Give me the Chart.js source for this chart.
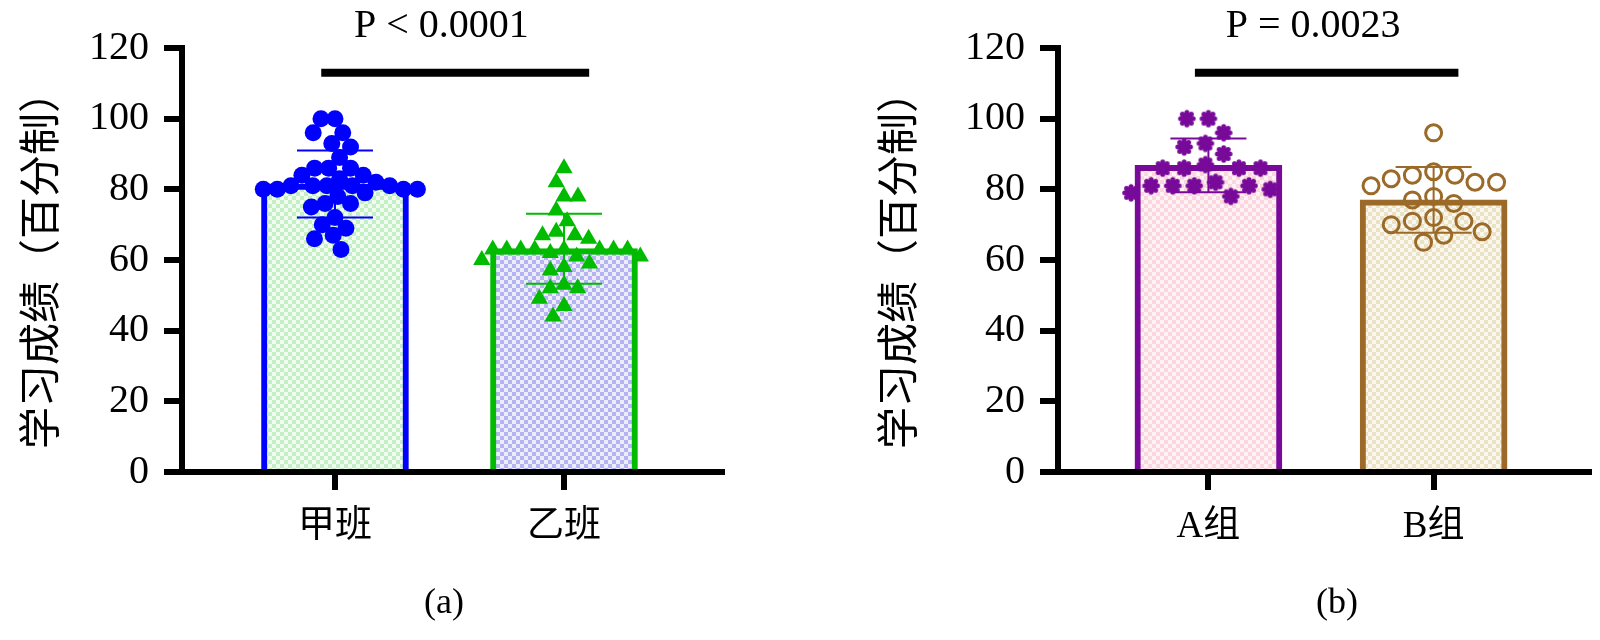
<!DOCTYPE html>
<html lang="zh">
<head>
<meta charset="UTF-8">
<title>学习成绩</title>
<script src="https://cdn.jsdelivr.net/npm/chart.js@4"></script>
<style>
  body { margin: 0; background: #fff; width: 1600px; height: 640px; position: relative; overflow: hidden; }
  canvas { position: absolute; top: 0; }
  .cap { position: absolute; top: 580px; line-height: 36px; font: 36px "Liberation Serif", serif; transform: translateX(-50%); }
</style>
</head>
<body>
<canvas id="chartA" width="800" height="640" style="left:0"></canvas>
<canvas id="chartB" width="724" height="640" style="left:876px"></canvas>
<div class="cap" style="left:444px">(a)</div>
<div class="cap" style="left:1337px">(b)</div>
<script>
// panel (a)
const classLabels = ['甲班', '乙班'];
const classMeans = [81.5, 63.2];
const classSD = [9.5, 9.9];
const jiaScores = [100, 100, 96, 96, 93, 92, 89, 86, 86, 86, 84, 84, 83, 82, 81, 81, 81, 81, 81,
                   80, 80, 80, 80, 79, 78, 76, 76, 75, 72, 70, 69, 67, 66, 63];
const yiScores = [86, 82, 78, 78, 74, 71, 68, 67, 67, 66, 63, 63, 63, 63, 63, 63, 63, 63, 62,
                  61, 61, 60, 59, 58, 57, 53, 52, 52, 49, 47, 44];
const pTextA = 'P < 0.0001';

// panel (b)
const groupLabels = ['A组', 'B组'];
const groupMeans = [86.8, 77.0];
const groupSD = [7.6, 9.3];
const groupAScores = [100, 100, 96, 93, 92, 90, 87, 86, 86, 86, 86, 82, 81, 81, 81, 81, 80, 79, 78];
const groupBScores = [96, 85, 84, 84, 83, 82, 82, 81, 78, 77, 76, 72, 71, 71, 70, 68, 67, 65];
const pTextB = 'P = 0.0023';

const yTicks = [0, 20, 40, 60, 80, 100, 120];
const yTitle = '学习成绩（百分制）';

function checker(ctx, c1, c2, s) {
    const cv = document.createElement('canvas');
    cv.width = cv.height = 2 * s;
    const g = cv.getContext('2d');
    g.fillStyle = c2; g.fillRect(0, 0, 2 * s, 2 * s);
    g.fillStyle = c1; g.fillRect(0, 0, s, s); g.fillRect(s, s, s, s);
    return ctx.createPattern(cv, 'repeat');
}

function flower(color) {
    const cv = document.createElement('canvas');
    cv.width = cv.height = 20;
    const g = cv.getContext('2d');
    g.fillStyle = color;
    g.beginPath(); g.arc(10, 10, 6.2, 0, 2 * Math.PI); g.fill();
    for (let k = 0; k < 8; k++) {
        const a = k * Math.PI / 4;
        g.beginPath(); g.arc(10 + 6.3 * Math.cos(a), 10 + 6.3 * Math.sin(a), 2.5, 0, 2 * Math.PI); g.fill();
    }
    return cv;
}

// beeswarm with an elliptic footprint (hx wide, hy tall), in pixel space,
// then mapped back to x values
function swarm(chart, values, cx, hx, hy) {
    const xs = chart.scales.x, ys = chart.scales.y;
    const c = xs.getPixelForValue(cx);
    const placed = [];
    return values.slice().sort((a, b) => b - a).map(v => {
        const y = ys.getPixelForValue(v);
        const near = placed.filter(q => Math.abs(q.y - y) < hy);
        const cands = [c];
        near.forEach(q => {
            const w = hx * Math.sqrt(1 - ((q.y - y) / hy) ** 2);
            cands.push(q.x - w, q.x + w);
        });
        cands.sort((a, b) => Math.abs(a - c) - Math.abs(b - c));
        const x = cands.find(xc => near.every(q => ((q.x - xc) / hx) ** 2 + ((q.y - y) / hy) ** 2 >= 0.999));
        placed.push({ x, y });
        return { x: xs.getValueForPixel(x), y: v };
    });
}

const serif = '"Liberation Serif", "Times New Roman", serif';
const cjk = '"Liberation Serif", "Noto Sans CJK SC", serif';

function makeChart(id, p) {
    const ctx = document.getElementById(id).getContext('2d');
    const fills = p.fills.map(f => checker(ctx, f[0], f[1], 4));

    const decor = {
        id: 'decor',
        afterDatasetDraw(chart, args) {
            if (args.meta.type !== 'bar') return;
            const xs = chart.scales.x, ys = chart.scales.y, g = chart.ctx;
            g.save();
            g.lineWidth = 2;
            p.means.forEach((m, i) => {
                const x = xs.getPixelForValue(i + 1);
                const top = ys.getPixelForValue(m + p.sd[i]);
                const bot = ys.getPixelForValue(m - p.sd[i]);
                g.strokeStyle = p.colors[i];
                g.beginPath();
                g.moveTo(x, top); g.lineTo(x, bot);
                g.moveTo(x - 38, top); g.lineTo(x + 38, top);
                g.moveTo(x - 38, bot); g.lineTo(x + 38, bot);
                g.stroke();
            });
            g.restore();
        },
        afterDraw(chart) {
            const xs = chart.scales.x, ys = chart.scales.y, g = chart.ctx;
            g.save();
            // significance bracket
            g.strokeStyle = '#000';
            g.lineWidth = 8;
            const ly = ys.getPixelForValue(113);
            g.beginPath();
            g.moveTo(xs.getPixelForValue(0.94), ly);
            g.lineTo(xs.getPixelForValue(2.11), ly);
            g.stroke();
            g.fillStyle = '#000';
            g.font = '40px ' + serif;
            g.textAlign = 'center';
            g.textBaseline = 'alphabetic';
            g.fillText(p.pText, xs.getPixelForValue(1.465), ys.getPixelForValue(123.2));
            // y axis title
            g.font = '42px "Noto Sans CJK SC", sans-serif';
            g.textBaseline = 'middle';
            g.translate(chart.chartArea.left - p.titleGap, (chart.chartArea.top + chart.chartArea.bottom) / 2);
            g.rotate(-Math.PI / 2);
            g.fillText(yTitle, 0, 0);
            g.restore();
        }
    };

    const chart = new Chart(ctx, {
        type: 'bar',
        data: {
            datasets: [
                Object.assign({ type: 'scatter', order: 1, data: [] }, p.markers[0]),
                Object.assign({ type: 'scatter', order: 1, data: [] }, p.markers[1]),
                {
                    type: 'bar', order: 2,
                    data: p.means.map((m, i) => ({ x: i + 1, y: m })),
                    backgroundColor: fills,
                    borderColor: p.colors,
                    borderWidth: 6,
                    borderSkipped: 'start',
                    barThickness: 147
                }
            ]
        },
        options: {
            responsive: false,
            animation: false,
            layout: { padding: { top: 48, right: p.padRight, left: 0, bottom: 0 } },
            plugins: { legend: { display: false }, tooltip: { enabled: false } },
            scales: {
                x: {
                    type: 'linear', min: 0.332, max: 2.69, offset: false,
                    afterFit: s => { s.height = 168; },
                    afterBuildTicks: s => { s.ticks = p.labels.map((_, i) => ({ value: i + 1 })); },
                    ticks: {
                        callback: v => p.labels[v - 1],
                        font: { family: cjk, size: 37 }, color: '#000', padding: 15,
                        autoSkip: false, maxRotation: 0
                    },
                    grid: { offset: false, drawOnChartArea: false, tickLength: 18, lineWidth: 6, color: '#000' },
                    border: { display: true, width: 6, color: '#000' }
                },
                y: {
                    min: 0, max: 120,
                    afterFit: s => { s.width = 182; },
                    afterBuildTicks: s => { s.ticks = yTicks.map(v => ({ value: v })); },
                    ticks: { font: { family: serif, size: 40 }, color: '#000', padding: 15 },
                    grid: { drawOnChartArea: false, tickLength: 18, lineWidth: 6, color: '#000' },
                    border: { display: true, width: 6, color: '#000' }
                }
            }
        },
        plugins: [decor]
    });

    chart.data.datasets[0].data = swarm(chart, p.scores[0], 1, p.spread[0], p.spread[1]);
    chart.data.datasets[1].data = swarm(chart, p.scores[1], 2, p.spread[0], p.spread[1]);
    chart.update('none');
    return chart;
}

makeChart('chartA', {
    labels: classLabels, means: classMeans, sd: classSD, scores: [jiaScores, yiScores],
    pText: pTextA, padRight: 78, titleGap: 143, spread: [14, 17],
    colors: ['#0000ff', '#00bb00'],
    fills: [['#c4efc4', '#f0fcf0'], ['#b4b4f0', '#ececfc']],
    markers: [
        { pointStyle: 'circle', pointRadius: 8.5, backgroundColor: '#0000ff', borderColor: '#0000ff', borderWidth: 0 },
        { pointStyle: 'triangle', pointRadius: 10, backgroundColor: '#00bb00', borderColor: '#00bb00', borderWidth: 0 }
    ]
});

makeChart('chartB', {
    labels: groupLabels, means: groupMeans, sd: groupSD, scores: [groupAScores, groupBScores],
    pText: pTextB, padRight: 0, titleGap: 161, spread: [22, 20],
    colors: ['#780a9a', '#9b6a28'],
    fills: [['#fbd6de', '#fff2f5'], ['#ebe2c6', '#faf7ee']],
    markers: [
        { pointStyle: flower('#780a9a'), pointRadius: 9, backgroundColor: '#780a9a', borderColor: '#780a9a', borderWidth: 0 },
        { pointStyle: 'circle', pointRadius: 8, backgroundColor: 'rgba(0,0,0,0)', borderColor: '#9b6a28', borderWidth: 3 }
    ]
});
</script>
</body>
</html>
